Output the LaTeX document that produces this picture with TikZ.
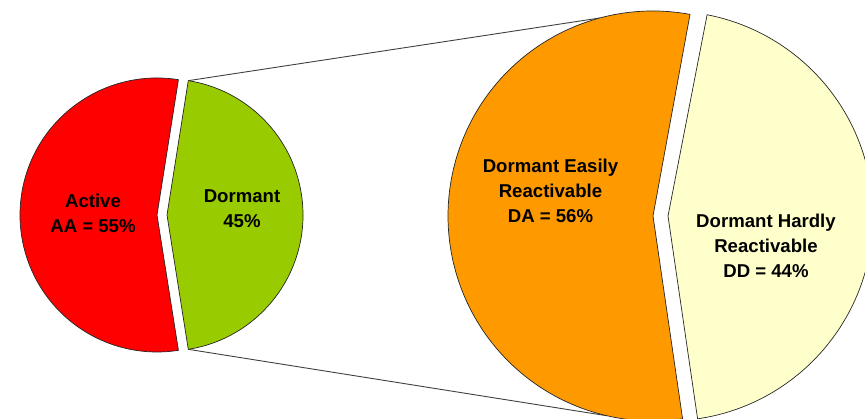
\documentclass[tikz,border=0pt]{standalone}
\usepackage{fontspec}
\setmainfont{Liberation Sans}
\definecolor{cRed}{HTML}{FF0000}
\definecolor{cGreen}{HTML}{99CC00}
\definecolor{cOrange}{HTML}{FF9900}
\definecolor{cYellow}{HTML}{FFFFCC}
\begin{document}
\begin{tikzpicture}[x=1pt,y=1pt,
  slice/.style={draw=black!85, line width=0.7pt, line join=round},
  lbl/.style={font=\fontsize{18.6}{25}\selectfont\bfseries, align=center, anchor=base, inner sep=0pt, text=black},
  link/.style={draw=black!75, line width=0.9pt}]
\useasboundingbox (0,0) rectangle (865,419);
\clip (0,0) rectangle (865,419);
% apexes
\coordinate (ra) at (157,204);
\coordinate (ga) at (167,204);
\coordinate (oa) at (653,203);
\coordinate (ya) at (668,203);
% corners
\path (ga) ++(81:136) coordinate (gtop);
\path (ga) ++(-81:136) coordinate (gbot);
\path (oa) ++(105:205) coordinate (otop);
\path (oa) ++(257:205) coordinate (obot);
% connectors
\draw[link] (gtop) -- (otop);
\draw[link] (gbot) -- (obot);
% small pie
\draw[slice, fill=cRed] (ra) -- ++(81:137) arc[start angle=81, end angle=279, radius=137] -- cycle;
\draw[slice, fill=cGreen] (ga) -- ++(-81:136) arc[start angle=-81, end angle=81, radius=136] -- cycle;
% big pie
\draw[slice, fill=cOrange] (oa) -- ++(79.6:205) arc[start angle=79.6, end angle=278.3, radius=205] -- cycle;
\draw[slice, fill=cYellow] (ya) -- ++(-81.7:205) arc[start angle=-81.7, end angle=79, radius=205] -- cycle;
% labels (anchor = baseline of last line)
\node[lbl] (active) at (93,186) {Active\\AA = 55\%};
\node[lbl] (dormant) at (242,191) {Dormant\\45\%};
\node[lbl] (da) at (550.5,196) {Dormant Easily\\Reactivable\\DA = 56\%};
\node[lbl] (dd) at (766,141) {Dormant Hardly\\Reactivable\\DD = 44\%};
\end{tikzpicture}
\end{document}
